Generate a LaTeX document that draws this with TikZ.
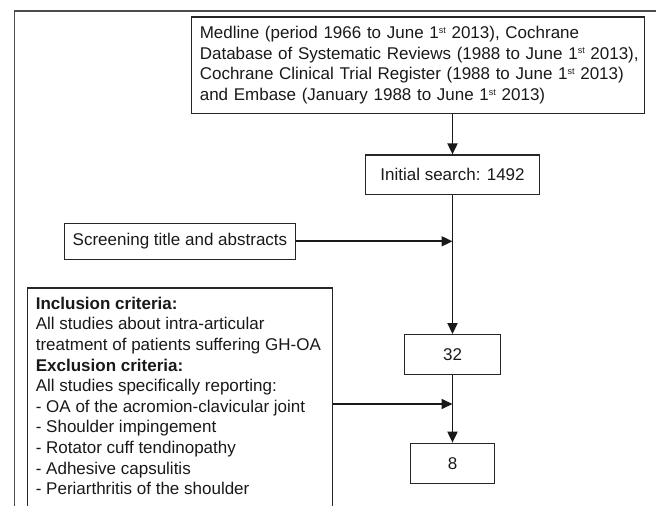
\documentclass[tikz,border=0pt]{standalone}
\usepackage{fontspec}
\setmainfont{Liberation Sans}
\usetikzlibrary{arrows.meta}
\newcommand{\stsup}{\raisebox{5.5pt}{\fontsize{9}{9}\selectfont st}}
\begin{document}
\begin{tikzpicture}[x=1pt,y=-1pt,
  box/.style={draw=black!85, line width=1.3pt, inner sep=0pt},
  txt/.style={font=\fontsize{17}{20.6}\selectfont, text=black!90},
  arr/.style={draw=black!90, line width=1.8pt, -{Triangle[length=11pt,width=10pt]}},
  frame/.style={draw=black!70, line width=1.5pt}]
\useasboundingbox (0,0) rectangle (656,506);
\clip (0,0) rectangle (656,506);
\coordinate (fbl) at (14.7,530);
\coordinate (ftl) at (14.7,11);
\coordinate (ftr) at (680,11);
\draw[frame] (fbl) -- (ftl) -- (ftr);

\node[box, txt, text width=445pt, inner xsep=4pt, minimum height=96.7pt, align=left] (db) at (418.3,65.3)
  {\hspace*{4pt}Medline (period 1966 to June 1\stsup{} 2013), Cochrane\\
   \hspace*{4pt}Database of Systematic Reviews (1988 to June 1\stsup{} 2013),\\
   \hspace*{4pt}Cochrane Clinical Trial Register (1988 to June 1\stsup{} 2013)\\
   \hspace*{4pt}and Embase (January 1988 to June 1\stsup{} 2013)};

\node[box, txt, minimum width=174pt, minimum height=39.3pt] (init) at (452.5,174.7) {Initial search: 1492};
\node[box, txt, minimum width=231.4pt, minimum height=36pt] (scr) at (180,241.3) {Screening title and abstracts};
\node[box, txt, minimum width=96pt, minimum height=40pt] (n32) at (452.5,354.7) {32};
\node[box, txt, minimum width=84pt, minimum height=40pt] (n8) at (452.5,463.3) {8};

\node[box, txt, anchor=north west, inner xsep=8.5pt, inner ysep=9pt] (crit) at (26.7,287.3)
  {\parbox[t][240pt][t]{288pt}{\raggedright
   \textbf{Inclusion criteria:}\\
   All studies about intra-articular\\
   treatment of patients suffering GH-OA\\
   \textbf{Exclusion criteria:}\\
   All studies specifically reporting:\\
   - OA of the acromion-clavicular joint\\
   - Shoulder impingement\\
   - Rotator cuff tendinopathy\\
   - Adhesive capsulitis\\
   - Periarthritis of the shoulder}};
\path (crit.north east) ++(0,116.7) coordinate (cj);

\draw[arr] (db.south -| init.north) -- (init.north);
\draw[arr] (init.south) -- (n32.north);
\draw[arr] (scr.east) -- (scr.east -| init.south);
\draw[arr] (cj) -- (cj -| n32.south);
\draw[arr] (n32.south) -- (n8.north);
\end{tikzpicture}
\end{document}
